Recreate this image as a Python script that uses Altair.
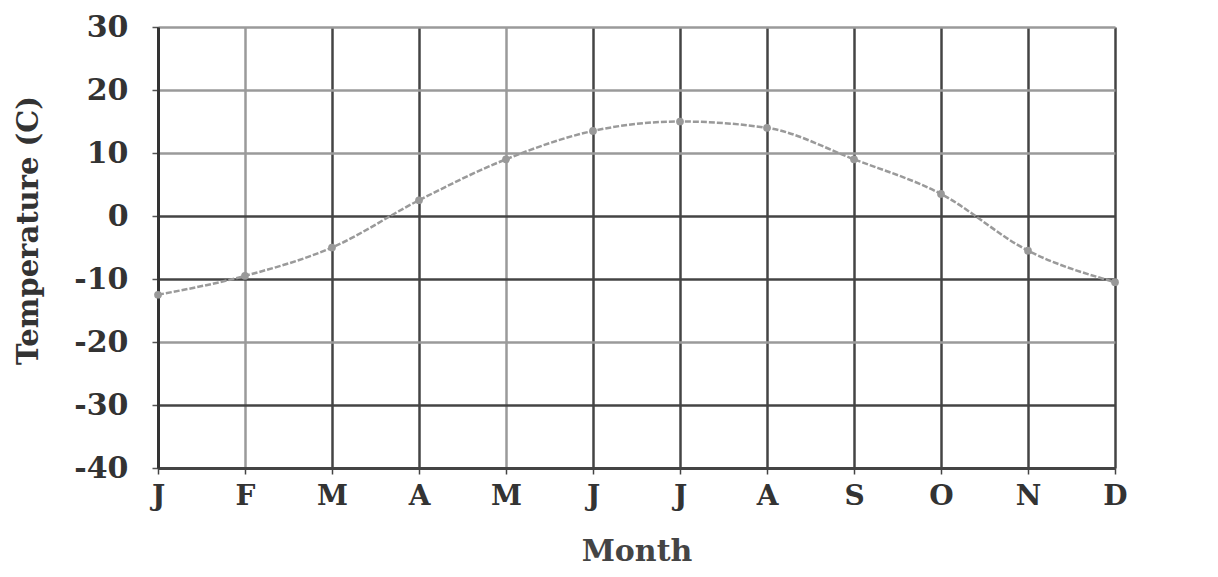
import altair as alt
import pandas as pd

months = ["J", "F", "M", "A", "M", "J", "J", "A", "S", "O", "N", "D"]
temps = [-12.5, -9.5, -5, 2.5, 9, 13.5, 15, 14, 9, 3.5, -5.5, -10.5]
y_ticks = [-40, -30, -20, -10, 0, 10, 20, 30]

df = pd.DataFrame({"idx": list(range(len(months))), "month": months, "temp": temps})

label_expr = "[" + ",".join("'" + m + "'" for m in months) + "][datum.value]"
FONT = "DejaVu Serif"

x_enc = alt.X(
    "idx:Q",
    scale=alt.Scale(domain=[0, len(months) - 1], nice=False, zero=False),
    axis=alt.Axis(
        values=list(range(len(months))),
        labelExpr=label_expr,
        title="Month",
        labelFont=FONT, labelFontSize=28, labelFontWeight="bold", labelColor="#333",
        titleFont=FONT, titleFontSize=30, titleFontWeight="bold", titleColor="#444",
        titlePadding=26, labelPadding=8, tickSize=6, tickColor="#444", tickWidth=1.5,
        domainColor="#444", domainWidth=3,
        grid=True,
        gridColor=alt.condition("datum.value == 1 || datum.value == 4", alt.value("#9a9a9a"), alt.value("#444")),
        gridWidth=2.5,
        labelFlush=False,
    ),
)
y_enc = alt.Y(
    "temp:Q",
    scale=alt.Scale(domain=[-40, 30], nice=False),
    axis=alt.Axis(
        values=y_ticks,
        labelExpr="'' + datum.value",
        title="Temperature (C)",
        labelFont=FONT, labelFontSize=30, labelFontWeight="bold", labelColor="#333",
        titleFont=FONT, titleFontSize=29, titleFontWeight="bold", titleColor="#333",
        titleX=-130, titleY=203, titleAngle=270, titleBaseline="middle", titleAlign="center",
        labelPadding=24, tickSize=6, tickColor="#555", tickWidth=1.5,
        domainColor="#333", domainWidth=3,
        grid=True,
        gridColor=alt.condition("datum.value == 30 || datum.value == 20 || datum.value == 10 || datum.value == -20",
                                alt.value("#9a9a9a"), alt.value("#444")),
        gridWidth=2.5,
    ),
)

line = alt.Chart(df).mark_line(interpolate="monotone", color="#9a9a9a", strokeWidth=2.5, strokeDash=[6, 2]).encode(x=x_enc, y=y_enc)
pts = alt.Chart(df).mark_point(filled=True, color="#999", size=60, opacity=1).encode(x="idx:Q", y="temp:Q")

chart = (line + pts).properties(
    width=957, height=441,
    padding={"left": 150, "top": 19, "right": 80, "bottom": 101},
    autosize="none",
).configure_view(stroke=None).configure(background="white")

chart.save("out.html", embed_options={"renderer": "svg", "actions": False})
